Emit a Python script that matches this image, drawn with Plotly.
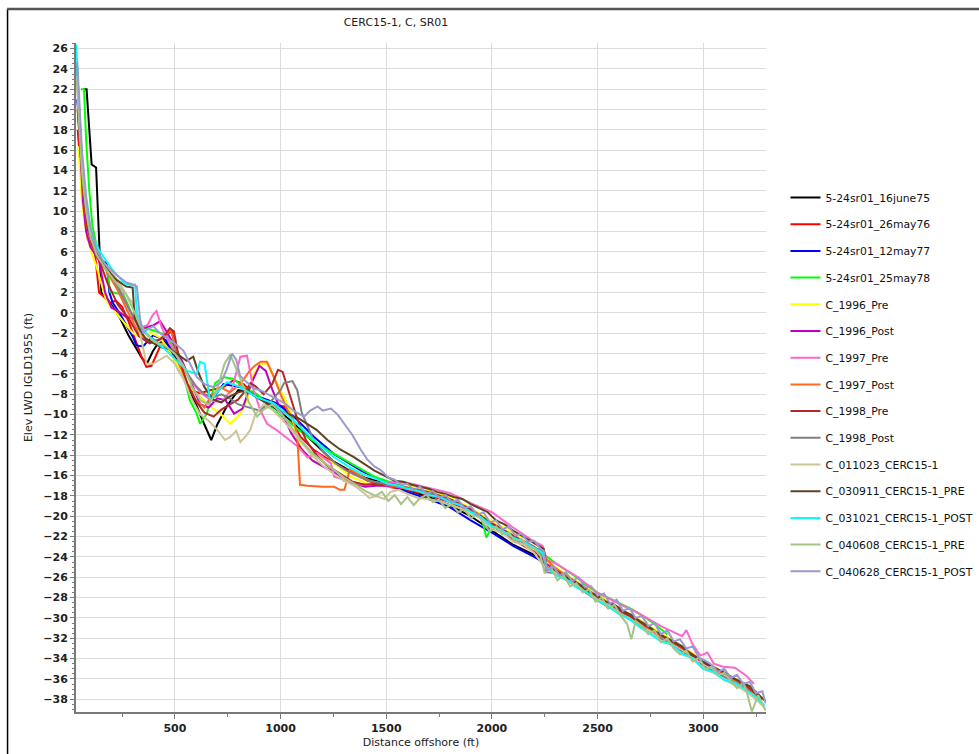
import plotly.graph_objects as go

# ---------------- data (distance offshore ft, elevation ft) ----------------
names = ["5-24sr01_16june75", "5-24sr01_26may76", "5-24sr01_12may77", "5-24sr01_25may78",
         "C_1996_Pre", "C_1996_Post", "C_1997_Pre", "C_1997_Post", "C_1998_Pre", "C_1998_Post",
         "C_011023_CERC15-1", "C_030911_CERC15-1_PRE", "C_031021_CERC15-1_POST",
         "C_040608_CERC15-1_PRE", "C_040628_CERC15-1_POST"]
colors = ["#000000", "#ff0000", "#0000ff", "#00ff00", "#ffff00", "#c000c0", "#ff66cc", "#ff6a1a",
          "#b02828", "#808080", "#cdc498", "#5e4222", "#00ffff", "#a6c488", "#9a9ace"]

black_x = [66, 82, 106, 127, 146, 152, 170, 200, 240, 280, 320, 345, 370, 395, 420, 450, 480, 520, 560, 600, 640, 672, 700, 745, 800, 850, 900, 950, 1000, 1050, 1100, 1150, 1200, 1250, 1300, 1350, 1400, 1450, 1500, 1600, 1700, 1800, 1900, 2000, 2100, 2200, 2260]
black_y = [22, 22, 14.6, 14.3, 4.9, 2.0, 1.6, 0.8, -0.5, -2.2, -3.6, -4.5, -4.9, -3.8, -3.0, -2.8, -3.4, -5.0, -7.2, -9.0, -11.0, -12.5, -11.0, -9.2, -7.6, -7.8, -8.4, -9.0, -9.8, -10.6, -11.6, -12.6, -13.6, -14.6, -15.2, -15.8, -16.2, -16.5, -16.8, -17.4, -18.1, -18.9, -20.0, -21.4, -22.8, -23.8, -24.4]

red_x = [40, 55, 70, 88, 100, 106, 122, 141, 153, 193, 220, 250, 280, 310, 340, 365, 389, 421, 450, 470, 486, 508, 540, 571, 619, 667, 730, 778, 825, 873, 936, 1016, 1063, 1095, 1159, 1254, 1349, 1413, 1508, 1600, 1700, 1800, 1900, 2000, 2100, 2200, 2260]
red_y = [18, 14, 10, 7.2, 6.8, 6.7, 5.8, 2.0, 1.8, 1.0, 1.2, 0.6, -0.8, -2.5, -4.2, -5.3, -5.2, -3.7, -2.4, -2.0, -1.8, -4.0, -6.3, -7.6, -7.9, -7.6, -7.3, -6.6, -7.0, -8.0, -8.9, -9.2, -10.9, -12.2, -13.5, -14.8, -15.8, -16.5, -17.1, -17.4, -17.9, -18.6, -19.5, -20.9, -22.3, -23.5, -24.2]

blue_x = [38, 55, 80, 110, 150, 177, 190, 206, 238, 270, 302, 318, 349, 397, 460, 516, 556, 619, 651, 683, 730, 810, 905, 984, 1063, 1159, 1254, 1381, 1508, 1600, 1700, 1800, 1900, 2000, 2100, 2200, 2250]
blue_y = [21, 16, 10, 6.8, 5.2, 4.9, 2.0, 1.0, 0.0, -1.2, -2.4, -3.2, -3.3, -2.2, -2.7, -5.6, -6.9, -8.3, -8.9, -8.3, -7.0, -7.3, -8.3, -8.9, -10.2, -12.2, -13.9, -15.5, -16.8, -17.6, -18.3, -19.1, -20.4, -21.6, -22.9, -24.0, -24.6]

green_x = [55, 70, 80, 95, 110, 140, 180, 193, 230, 254, 278, 302, 334, 397, 460, 524, 571, 603, 619, 651, 690, 730, 778, 825, 889, 968, 1032, 1127, 1222, 1333, 1444, 1540, 1600, 1700, 1800, 1900, 1950, 1974, 2000, 2050, 2100, 2200, 2300, 2400, 2484, 2550, 2668, 2750, 2830]
green_y = [22, 22, 17, 12, 8.5, 5.6, 4.2, 2.1, 1.9, 1.9, 0.8, -0.4, -1.4, -1.7, -2.2, -4.7, -8.6, -9.9, -10.9, -9.9, -6.9, -6.3, -6.5, -7.3, -8.0, -9.6, -10.6, -12.2, -13.5, -14.8, -16.1, -16.8, -17.2, -17.7, -18.4, -19.4, -20.0, -22.1, -21.0, -21.4, -22.0, -23.0, -24.6, -26.0, -27.4, -28.0, -29.2, -30.3, -31.6]

yellow_x = [43, 52, 60, 75, 100, 130, 175, 238, 302, 365, 381, 429, 460, 524, 571, 619, 667, 714, 762, 810, 841, 873, 905, 936, 968, 1032, 1063, 1095, 1127, 1191, 1254, 1333, 1413, 1508, 1600, 1700, 1800, 1900, 2000, 2100, 2200, 2240, 2260, 2300, 2400, 2500, 2600, 2700, 2800, 2900, 3000, 3100, 3200, 3280]
yellow_y = [16.4, 13, 11, 8.5, 6.3, 4.5, 1.2, -0.4, -2.0, -2.7, -1.9, -2.4, -3.3, -5.6, -7.3, -8.3, -9.2, -9.9, -10.9, -9.9, -8.6, -6.0, -5.0, -5.0, -6.3, -8.9, -10.9, -13.2, -14.2, -14.2, -14.8, -16.1, -16.8, -17.1, -17.0, -17.5, -18.1, -19.2, -20.5, -21.6, -22.6, -23.0, -24.5, -25.0, -26.4, -27.7, -29.0, -30.2, -31.5, -32.8, -34.2, -35.4, -36.5, -37.9]

magenta_x = [46, 55, 65, 80, 100, 140, 170, 200, 230, 270, 300, 350, 400, 430, 460, 500, 540, 580, 620, 660, 700, 740, 780, 820, 860, 900, 930, 960, 1000, 1050, 1100, 1150, 1200, 1250, 1300, 1350, 1400, 1450, 1500, 1600, 1700, 1800, 1900, 2000, 2100, 2200, 2250, 2300, 2400, 2500, 2600, 2700, 2800, 2900, 3000, 3100, 3200, 3270]
magenta_y = [18.5, 15, 11, 8, 6.5, 5.2, 2.0, 0.5, 0.2, -0.4, -0.5, -1.5, -1.2, -0.8, -1.8, -3.3, -5.0, -7.0, -9.0, -9.3, -8.4, -8.6, -9.9, -9.4, -7.0, -5.2, -5.7, -7.5, -9.5, -11.8, -13.4, -14.5, -15.1, -15.6, -16.5, -16.8, -17.1, -17.0, -17.0, -17.3, -17.8, -18.5, -19.4, -20.7, -21.9, -23.0, -24.6, -25.2, -26.5, -27.9, -29.2, -30.4, -31.7, -33.0, -34.4, -35.5, -36.7, -38.0]

pink_x = [40, 55, 70, 90, 110, 140, 180, 230, 280, 330, 370, 395, 413, 437, 470, 520, 570, 620, 670, 720, 770, 810, 841, 873, 905, 936, 980, 1030, 1080, 1127, 1175, 1238, 1254, 1317, 1380, 1450, 1520, 1600, 1700, 1800, 1900, 2000, 2100, 2200, 2240, 2260, 2300, 2400, 2500, 2600, 2700, 2800, 2860, 2900, 2920, 2950, 2986, 3020, 3050, 3094, 3150, 3205, 3240]
pink_y = [21, 16, 11.5, 8.5, 6.8, 5.3, 4.2, 2.8, 0.5, -1.5, -1.2, -0.2, 0.2, -1.4, -2.8, -4.6, -6.5, -7.8, -8.6, -8.8, -7.5, -4.3, -4.2, -7.6, -9.6, -10.9, -11.5, -12.3, -13.1, -14.2, -13.8, -14.8, -16.1, -16.5, -16.9, -16.8, -16.6, -16.7, -17.2, -17.7, -18.7, -19.6, -21.1, -22.5, -22.9, -24.3, -24.6, -25.9, -27.5, -28.6, -29.6, -30.8, -31.4, -31.8, -31.2, -32.6, -33.7, -33.4, -34.5, -34.8, -34.9, -35.7, -36.5]

orange_x = [40, 55, 70, 90, 110, 140, 180, 230, 280, 330, 380, 430, 460, 480, 500, 520, 560, 600, 640, 667, 714, 760, 810, 850, 873, 905, 936, 968, 1000, 1032, 1063, 1079, 1092, 1127, 1200, 1254, 1280, 1302, 1328, 1360, 1420, 1500, 1600, 1700, 1800, 1900, 2000, 2100, 2200, 2300, 2400, 2500, 2600, 2700, 2800, 2900, 3000, 3100, 3200, 3270]
orange_y = [20, 15, 11, 8, 6.5, 5.3, 4.0, 2.2, 0.0, -2.0, -2.8, -2.6, -2.0, -1.7, -3.0, -5.0, -7.0, -8.6, -9.3, -8.3, -7.3, -7.8, -7.0, -5.8, -5.3, -4.8, -4.8, -6.3, -8.0, -9.5, -10.6, -12.2, -16.9, -17.0, -17.1, -17.1, -17.4, -17.4, -15.4, -15.8, -16.5, -16.9, -17.3, -17.8, -18.4, -19.4, -20.8, -21.9, -23.0, -25.1, -26.5, -27.9, -29.2, -30.5, -31.8, -33.0, -34.3, -35.5, -36.7, -38.0]

darkred_x = [40, 55, 70, 90, 110, 140, 180, 230, 280, 330, 380, 430, 460, 476, 495, 520, 560, 600, 640, 683, 720, 760, 800, 840, 857, 880, 920, 960, 988, 1010, 1048, 1080, 1120, 1170, 1220, 1280, 1340, 1400, 1460, 1520, 1600, 1700, 1800, 1900, 2000, 2100, 2200, 2260, 2300, 2400, 2500, 2600, 2700, 2800, 2900, 3000, 3100, 3200, 3280]
darkred_y = [20, 15, 11, 8, 6.6, 5.3, 3.0, 0.8, -0.5, -2.3, -3.0, -2.6, -2.0, -1.5, -1.8, -4.5, -7.0, -8.7, -9.8, -10.2, -9.5, -9.0, -8.5, -7.5, -6.9, -7.2, -8.0, -7.0, -5.6, -5.8, -8.3, -10.5, -12.5, -14.0, -15.0, -15.8, -16.6, -16.9, -16.8, -16.8, -17.2, -17.6, -18.3, -19.3, -20.7, -21.9, -23.1, -25.0, -25.3, -26.6, -28.0, -29.2, -30.4, -31.7, -32.9, -34.3, -35.4, -36.6, -38.0]

grey_x = [40, 55, 70, 90, 110, 140, 180, 230, 280, 320, 360, 400, 440, 480, 520, 560, 600, 640, 680, 720, 760, 800, 850, 900, 950, 1000, 1016, 1040, 1056, 1079, 1100, 1150, 1200, 1260, 1320, 1380, 1440, 1500, 1600, 1700, 1800, 1900, 2000, 2100, 2200, 2240, 2255, 2300, 2400, 2500, 2600, 2700, 2800, 2900, 3000, 3100, 3200, 3285]
grey_y = [22, 16, 12, 9, 7, 5.5, 4.3, 2.5, 0.5, -1.0, -2.0, -2.6, -3.2, -3.6, -4.5, -6.0, -7.2, -8.0, -8.3, -8.0, -8.4, -9.0, -9.3, -9.6, -8.8, -7.6, -6.9, -6.8, -6.7, -7.6, -9.8, -12.2, -13.6, -14.8, -15.6, -16.2, -16.6, -16.8, -17.2, -17.7, -18.4, -19.5, -20.9, -22.1, -23.1, -23.4, -25.5, -25.6, -26.9, -28.3, -29.5, -30.7, -32.0, -33.3, -34.7, -35.8, -36.9, -38.6]

khaki_x = [40, 55, 70, 90, 110, 140, 180, 230, 280, 300, 330, 365, 397, 430, 460, 500, 540, 580, 620, 660, 700, 737, 762, 790, 810, 840, 857, 880, 920, 960, 1000, 1050, 1100, 1150, 1200, 1250, 1300, 1350, 1400, 1420, 1450, 1492, 1520, 1560, 1600, 1650, 1700, 1750, 1800, 1850, 1900, 1950, 2000, 2050, 2100, 2150, 2200, 2250, 2300, 2350, 2400, 2450, 2500, 2550, 2600, 2650, 2700, 2750, 2800, 2850, 2900, 2950, 3000, 3050, 3100, 3150, 3200, 3250, 3290]
khaki_y = [22, 17, 12.5, 9, 7, 5.6, 4.5, 3.2, 1.5, 1.0, -1.5, -5.0, -5.0, -4.6, -4.2, -5.0, -6.5, -8.5, -10.0, -10.6, -11.5, -12.5, -12.2, -11.6, -12.7, -12.0, -11.5, -10.0, -9.0, -9.5, -10.3, -11.5, -12.8, -14.0, -15.0, -15.8, -16.5, -17.0, -17.8, -18.2, -18.0, -18.3, -17.6, -17.4, -17.8, -18.2, -18.3, -18.5, -18.9, -19.2, -19.8, -20.2, -21.3, -21.6, -22.5, -22.8, -23.6, -25.0, -25.6, -26.0, -26.8, -27.3, -28.2, -28.6, -29.6, -30.0, -30.9, -31.3, -32.3, -32.6, -33.6, -33.9, -35.0, -35.4, -36.1, -36.6, -37.2, -38.0, -38.8]

brown_x = [35, 45, 60, 80, 100, 130, 170, 220, 270, 300, 310, 330, 360, 400, 440, 480, 520, 556, 587, 610, 640, 680, 720, 760, 800, 841, 880, 936, 980, 1032, 1080, 1127, 1170, 1222, 1280, 1349, 1400, 1444, 1500, 1540, 1580, 1620, 1660, 1700, 1740, 1780, 1820, 1860, 1900, 1940, 1980, 2020, 2060, 2100, 2140, 2180, 2220, 2245, 2260, 2300, 2340, 2380, 2420, 2460, 2500, 2540, 2580, 2620, 2660, 2700, 2740, 2780, 2820, 2860, 2900, 2940, 2980, 3020, 3060, 3100, 3140, 3180, 3220, 3260, 3295]
brown_y = [25, 21, 15, 10.5, 7.5, 5.8, 4.5, 3.3, 2.6, 2.5, -0.5, -1.5, -2.5, -3.0, -3.4, -3.6, -4.2, -4.7, -4.3, -5.8, -7.3, -8.5, -8.8, -8.2, -7.8, -7.6, -8.2, -8.9, -9.3, -9.9, -10.3, -10.9, -11.5, -12.5, -13.4, -14.2, -14.9, -15.5, -16.1, -16.5, -16.6, -16.9, -17.1, -17.3, -17.6, -17.8, -18.1, -18.3, -18.8, -19.2, -19.6, -20.4, -20.8, -21.4, -21.9, -22.4, -22.9, -23.2, -25.2, -25.3, -25.9, -26.3, -26.8, -27.5, -27.8, -28.4, -28.7, -29.3, -29.7, -30.3, -30.8, -31.4, -31.9, -32.3, -32.8, -33.6, -34.0, -34.6, -35.0, -35.4, -35.9, -36.3, -36.7, -37.5, -38.2]

cyan_x = [33, 40, 50, 65, 80, 100, 143, 206, 261, 294, 311, 320, 350, 381, 420, 460, 508, 560, 603, 619, 640, 667, 700, 746, 810, 889, 968, 1063, 1127, 1190, 1254, 1320, 1381, 1450, 1508, 1560, 1600, 1650, 1700, 1750, 1800, 1850, 1900, 1950, 2000, 2050, 2100, 2150, 2200, 2240, 2260, 2300, 2350, 2400, 2450, 2500, 2550, 2600, 2650, 2700, 2750, 2800, 2850, 2900, 2950, 3000, 3050, 3100, 3150, 3200, 3240, 3290]
cyan_y = [26.4, 23, 18.5, 13.5, 10.5, 8.0, 6.1, 4.2, 2.9, 2.7, 2.8, 0.0, -1.6, -2.4, -3.0, -3.7, -4.7, -5.7, -6.0, -4.8, -5.0, -8.7, -7.8, -6.8, -7.3, -8.3, -8.9, -10.6, -11.9, -13.1, -14.2, -15.1, -15.8, -16.3, -16.8, -17.0, -17.3, -17.5, -17.9, -18.1, -18.6, -18.9, -19.6, -20.1, -21.0, -21.4, -22.1, -22.5, -23.1, -23.6, -25.0, -25.8, -26.2, -27.0, -27.5, -28.3, -28.8, -29.6, -30.1, -30.9, -31.6, -32.3, -32.6, -33.5, -34.0, -35.0, -35.3, -36.1, -36.4, -37.1, -37.6, -38.6]

sage_x = [35, 45, 60, 80, 100, 130, 170, 220, 270, 310, 350, 400, 450, 500, 540, 580, 620, 660, 700, 735, 762, 790, 820, 850, 889, 920, 960, 1000, 1050, 1100, 1150, 1200, 1250, 1300, 1350, 1400, 1450, 1480, 1510, 1540, 1570, 1600, 1630, 1660, 1690, 1720, 1750, 1780, 1810, 1840, 1870, 1900, 1930, 1960, 1990, 2020, 2050, 2080, 2110, 2140, 2170, 2200, 2230, 2250, 2280, 2310, 2340, 2370, 2400, 2430, 2460, 2490, 2520, 2550, 2580, 2610, 2640, 2660, 2680, 2710, 2740, 2770, 2800, 2830, 2860, 2890, 2920, 2950, 2980, 3010, 3040, 3070, 3100, 3130, 3160, 3190, 3205, 3230, 3260, 3280, 3295]
sage_y = [23, 19, 14, 10, 7.5, 5.7, 4.4, 3.0, 1.8, 0.0, -1.8, -2.8, -3.2, -4.0, -5.2, -7.2, -8.6, -9.0, -7.5, -5.0, -4.1, -5.5, -7.0, -8.8, -10.2, -9.5, -9.0, -9.8, -11.2, -12.6, -13.8, -14.6, -15.4, -16.2, -16.8, -17.5, -18.0, -17.6, -18.5, -17.9, -18.8, -18.1, -18.9, -18.2, -17.9, -18.6, -18.4, -19.2, -18.8, -19.6, -19.3, -20.2, -19.8, -20.7, -21.5, -21.0, -21.8, -21.6, -22.5, -22.2, -23.0, -23.2, -23.9, -25.6, -25.0, -26.3, -25.8, -26.9, -26.6, -27.5, -27.2, -28.4, -28.0, -29.1, -28.7, -29.8, -30.6, -32.1, -30.3, -30.8, -31.6, -31.2, -32.4, -32.0, -33.0, -33.6, -33.2, -34.3, -33.9, -35.0, -34.8, -35.6, -35.4, -36.2, -36.9, -36.4, -37.2, -39.2, -37.6, -38.4, -39.1, -38.6]

lav_x = [38, 45, 60, 80, 100, 130, 170, 220, 270, 300, 320, 335, 350, 370, 397, 430, 460, 500, 540, 570, 603, 640, 683, 720, 746, 770, 790, 809, 840, 870, 904, 940, 980, 1020, 1060, 1090, 1111, 1140, 1175, 1200, 1238, 1270, 1301, 1340, 1381, 1410, 1444, 1470, 1486, 1510, 1540, 1570, 1600, 1630, 1660, 1690, 1720, 1750, 1780, 1810, 1840, 1870, 1900, 1930, 1960, 1990, 2020, 2050, 2080, 2110, 2140, 2170, 2200, 2230, 2245, 2260, 2290, 2320, 2350, 2380, 2410, 2440, 2470, 2500, 2530, 2560, 2590, 2620, 2650, 2680, 2710, 2740, 2770, 2800, 2830, 2860, 2890, 2920, 2950, 2980, 3010, 3040, 3070, 3100, 3130, 3160, 3190, 3220, 3250, 3280, 3295]
lav_y = [24.7, 22, 16, 11.5, 8.5, 6.2, 4.8, 3.8, 3.0, 2.8, 2.6, -0.6, -2.0, -1.6, -1.3, -2.0, -2.4, -3.0, -3.7, -5.0, -6.3, -7.0, -7.3, -6.8, -5.5, -4.0, -4.6, -6.2, -6.8, -7.4, -7.6, -8.0, -8.5, -8.9, -9.6, -10.0, -10.2, -9.6, -9.2, -9.6, -9.4, -10.0, -10.9, -12.0, -13.5, -14.4, -15.1, -15.4, -15.7, -16.2, -16.4, -16.9, -16.8, -17.4, -17.1, -17.8, -17.5, -18.2, -17.9, -18.6, -18.4, -19.2, -19.0, -19.9, -19.6, -20.6, -20.4, -21.3, -21.0, -21.9, -21.7, -22.5, -22.4, -23.2, -23.4, -25.4, -24.9, -25.8, -25.5, -26.4, -26.0, -27.0, -26.9, -27.8, -27.6, -28.6, -28.2, -29.3, -29.0, -30.0, -29.8, -30.8, -30.5, -31.6, -31.2, -32.3, -32.1, -33.0, -32.8, -33.9, -34.2, -34.6, -35.3, -35.0, -35.9, -35.6, -36.5, -36.3, -37.4, -37.2, -38.4, -39.0]

series_x = [black_x, red_x, blue_x, green_x, yellow_x, magenta_x, pink_x, orange_x, darkred_x,
            grey_x, khaki_x, brown_x, cyan_x, sage_x, lav_x]
series_y = [black_y, red_y, blue_y, green_y, yellow_y, magenta_y, pink_y, orange_y, darkred_y,
            grey_y, khaki_y, brown_y, cyan_y, sage_y, lav_y]

title_text = "CERC15-1, C, SR01"
x_title = "Distance offshore (ft)"
y_title = "Elev LWD IGLD1955 (ft)"

# ---------------- figure ----------------
FONT = "DejaVu Sans"
fig = go.Figure()
for i, (nm, col) in enumerate(zip(names, colors)):
    fig.add_trace(go.Scatter(x=series_x[i], y=series_y[i], mode="lines", name=nm,
                             legendgroup=nm, line=dict(color=col, width=2)))

W, H = 979, 754
L, R, T, B = 76, 212.5, 43, 42
pw, ph = W - L - R, H - T - B

def px2paper_x(px):
    return (px - L) / pw

def py2paper_y(py):
    return 1 - (py - T) / ph

fig.update_layout(
    width=W, height=H,
    margin=dict(l=L, r=R, t=T, b=B, pad=0, autoexpand=False),
    paper_bgcolor="white", plot_bgcolor="white",
    font=dict(family=FONT, size=11, color="#222222"),
    title=dict(text=title_text, x=396 / W, xref="container", xanchor="center",
               y=1 - 22 / H, yref="container", yanchor="middle",
               font=dict(family=FONT, size=11, color="#222222")),
    showlegend=True,
    legend=dict(x=px2paper_x(786), xanchor="left", y=py2paper_y(183), yanchor="top",
                font=dict(family=FONT, size=10.8, color="#111111"),
                itemwidth=30, tracegroupgap=7.7, traceorder="grouped",
                bgcolor="rgba(0,0,0,0)", borderwidth=0),
    xaxis=dict(range=[32, 3297], dtick=500, tick0=0, showgrid=True, gridcolor="#dcdcdc", gridwidth=1,
               zeroline=False, showline=True, linecolor="#7a7a7a", linewidth=2,
               ticks="outside", ticklen=5, tickcolor="#7a7a7a", tickwidth=1,
               minor=dict(dtick=250, ticks="outside", ticklen=3, tickcolor="#7a7a7a", showgrid=False),
               tickfont=dict(family=FONT, size=11, color="#222222", weight="bold"),
               title=dict(text=x_title, standoff=4, font=dict(family=FONT, size=11, color="#222222"))),
    yaxis=dict(range=[-39.25, 26.55], dtick=2, tick0=0, showgrid=True, gridcolor="#dcdcdc", gridwidth=1,
               zeroline=False, showline=True, linecolor="#7a7a7a", linewidth=2,
               ticks="outside", ticklen=4, tickcolor="#7a7a7a", tickwidth=1,
               minor=dict(dtick=0.5, ticks="outside", ticklen=2, tickcolor="#7a7a7a", showgrid=False),
               tickfont=dict(family=FONT, size=11, color="#222222", weight="bold"),
               title=dict(text=y_title, standoff=8, font=dict(family=FONT, size=11, color="#222222"))),
    shapes=[
        dict(type="line", xref="paper", yref="paper", x0=px2paper_x(7.5), x1=px2paper_x(7.5),
             y0=py2paper_y(9), y1=py2paper_y(760), line=dict(color="#000000", width=1.5)),
        dict(type="line", xref="paper", yref="paper", x0=px2paper_x(7), x1=px2paper_x(985),
             y0=py2paper_y(9), y1=py2paper_y(9), line=dict(color="#555555", width=2.5)),
    ],
)

fig.write_html("out.html")
